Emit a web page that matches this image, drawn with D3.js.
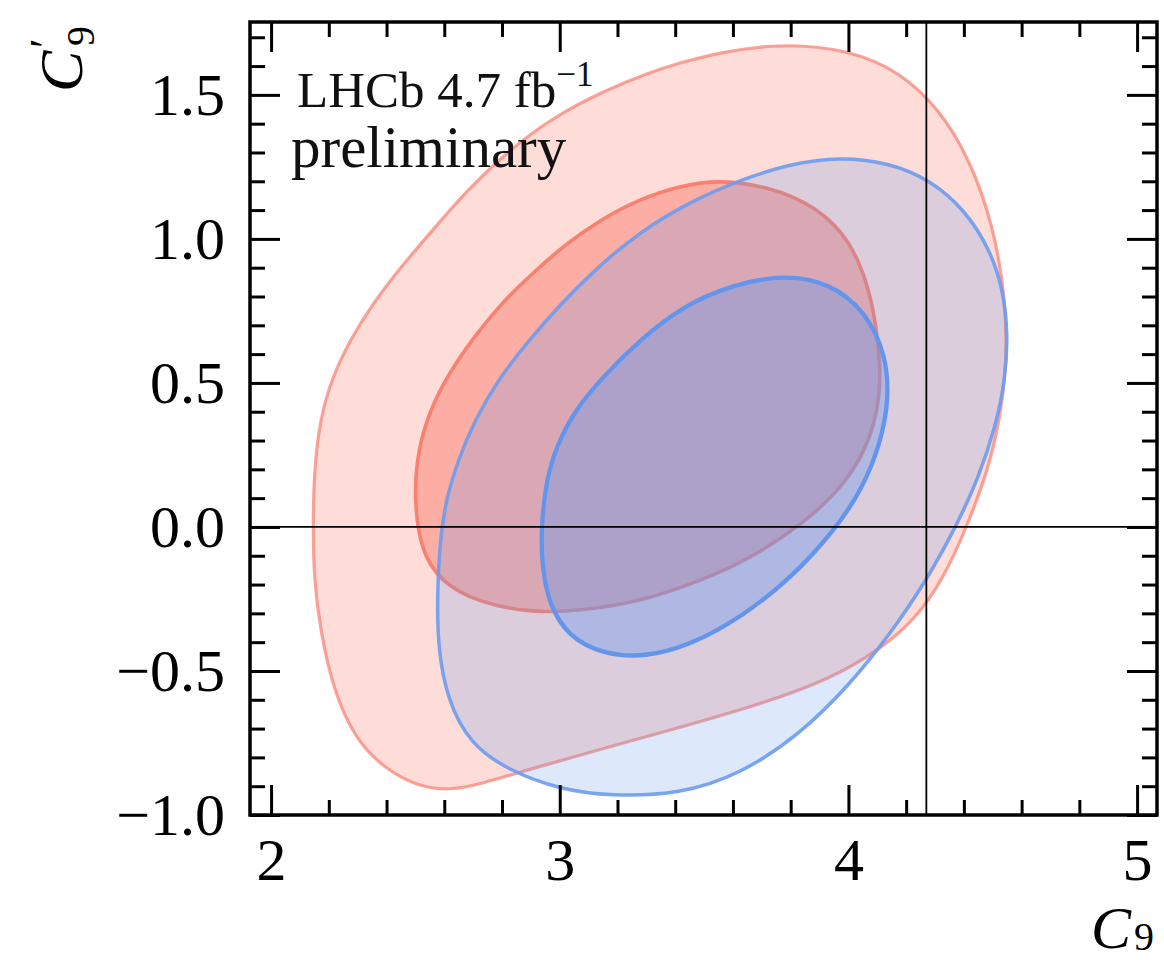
<!DOCTYPE html>
<html>
<head>
<meta charset="utf-8">
<script src="https://cdn.jsdelivr.net/npm/d3@7"></script>
<style>
  body { margin: 0; background: #fff; }
  svg { display: block; }
</style>
</head>
<body>
<svg id="chart" width="1164" height="960"></svg>
<script>
// Confidence regions in the (C9, C9') plane, as [C9, C9'] pairs around each contour.
const red2sigma = [
  [2.145, -0.009], [2.149, 0.199], [2.170, 0.373], [2.208, 0.511], [2.274, 0.650],
  [2.350, 0.772], [2.447, 0.900], [2.558, 1.028], [2.679, 1.170], [2.842, 1.323],
  [2.977, 1.420], [3.140, 1.510], [3.417, 1.621], [3.746, 1.684], [4.006, 1.656],
  [4.179, 1.580], [4.317, 1.448], [4.421, 1.275], [4.501, 1.049], [4.543, 0.806],
  [4.550, 0.581], [4.525, 0.373], [4.484, 0.199], [4.411, 0.002], [4.328, -0.182],
  [4.231, -0.321], [4.110, -0.425], [3.936, -0.529], [3.694, -0.616], [3.417, -0.696],
  [3.140, -0.772], [2.897, -0.841], [2.724, -0.893], [2.620, -0.914], [2.516, -0.904],
  [2.395, -0.841], [2.291, -0.737], [2.215, -0.564], [2.170, -0.356], [2.149, -0.182]
];
const red1sigma = [
  [2.495, 0.113], [2.509, 0.269], [2.551, 0.407], [2.613, 0.529], [2.696, 0.650],
  [2.793, 0.772], [2.908, 0.883], [3.018, 0.980], [3.140, 1.066], [3.278, 1.139],
  [3.417, 1.184], [3.545, 1.205], [3.718, 1.184], [3.891, 1.112], [4.006, 0.997],
  [4.075, 0.824], [4.103, 0.650], [4.113, 0.511], [4.096, 0.373], [4.047, 0.241],
  [3.964, 0.123], [3.850, 0.019], [3.711, -0.078], [3.555, -0.161], [3.313, -0.252],
  [3.070, -0.293], [2.897, -0.297], [2.717, -0.262], [2.585, -0.189], [2.516, -0.078]
];
const blue2sigma = [
  [2.575, -0.252], [2.585, -0.043], [2.606, 0.095], [2.648, 0.234], [2.707, 0.373],
  [2.786, 0.511], [2.887, 0.640], [3.001, 0.772], [3.129, 0.900], [3.278, 1.025],
  [3.451, 1.129], [3.625, 1.205], [3.798, 1.261], [3.971, 1.285], [4.144, 1.264],
  [4.283, 1.205], [4.404, 1.101], [4.491, 0.962], [4.536, 0.824], [4.553, 0.668],
  [4.543, 0.511], [4.512, 0.355], [4.449, 0.165], [4.373, 0.002], [4.273, -0.182],
  [4.144, -0.373], [4.006, -0.546], [3.833, -0.720], [3.625, -0.859], [3.417, -0.928],
  [3.174, -0.935], [3.001, -0.911], [2.828, -0.848], [2.689, -0.755], [2.610, -0.598],
  [2.579, -0.425]
];
const blue1sigma = [
  [2.935, -0.009], [2.953, 0.165], [2.991, 0.286], [3.053, 0.407], [3.157, 0.529],
  [3.278, 0.650], [3.434, 0.772], [3.600, 0.841], [3.774, 0.876], [3.936, 0.848],
  [4.061, 0.747], [4.130, 0.598], [4.141, 0.442], [4.110, 0.286], [4.047, 0.130],
  [3.954, -0.009], [3.805, -0.175], [3.632, -0.311], [3.458, -0.408], [3.296, -0.453],
  [3.150, -0.442], [3.029, -0.380], [2.963, -0.269], [2.939, -0.141]
];

// Standard Model point
const smC9 = 4.27;
const smC9p = 0.0;

// Axis ticks
const xMajorTicks = [2, 3, 4, 5];
const yMajorTicks = [-1.0, -0.5, 0.0, 0.5, 1.0, 1.5];
const xDomain = [1.927, 5.069];
const yDomain = [-1.0, 1.753];

const frame = { left: 250, right: 1157, top: 22, bottom: 815 };
const svg = d3.select("#chart");
const serif = "'Liberation Serif', 'Times New Roman', serif";

const x = d3.scaleLinear().domain(xDomain).range([frame.left, frame.right]);
const y = d3.scaleLinear().domain(yDomain).range([frame.bottom, frame.top]);

svg.append("defs").append("clipPath").attr("id", "plot-clip")
  .append("rect")
  .attr("x", frame.left).attr("y", frame.top)
  .attr("width", frame.right - frame.left).attr("height", frame.bottom - frame.top);

const plot = svg.append("g").attr("clip-path", "url(#plot-clip)");
const contour = d3.line()
  .x(d => x(d[0])).y(d => y(d[1]))
  .curve(d3.curveBasisClosed);

const regions = [
  { pts: red2sigma,  fill: "#fa8072", fillOpacity: 0.27, stroke: "#fa8072", strokeOpacity: 0.72, width: 3.2 },
  { pts: red1sigma,  fill: "#fa8072", fillOpacity: 0.50, stroke: "#f97c6a", strokeOpacity: 0.95, width: 3.6 },
  { pts: blue2sigma, fill: "#6495ed", fillOpacity: 0.22, stroke: "#6d9bee", strokeOpacity: 0.90, width: 3.5 },
  { pts: blue1sigma, fill: "#6495ed", fillOpacity: 0.38, stroke: "#6495ed", strokeOpacity: 1.0, width: 4.3 }
];
regions.forEach(r => {
  plot.append("path").datum(r.pts)
    .attr("d", contour)
    .attr("fill", r.fill).attr("fill-opacity", r.fillOpacity)
    .attr("stroke", "none");
  plot.append("path").datum(r.pts)
    .attr("d", contour)
    .attr("fill", "none")
    .attr("stroke", r.stroke).attr("stroke-opacity", r.strokeOpacity)
    .attr("stroke-width", r.width);
});

// SM reference lines
plot.append("line")
  .attr("x1", x(smC9)).attr("x2", x(smC9))
  .attr("y1", frame.top).attr("y2", frame.bottom)
  .attr("stroke", "#000").attr("stroke-width", 1.8);
plot.append("line")
  .attr("x1", frame.left).attr("x2", frame.right)
  .attr("y1", y(smC9p)).attr("y2", y(smC9p))
  .attr("stroke", "#000").attr("stroke-width", 1.8);

// Ticks (inward, mirrored on all sides)
const xMinor = d3.range(-30, 60).map(i => i / 5).filter(v => v > xDomain[0] && v < xDomain[1] && Math.abs(v - Math.round(v)) > 1e-6);
const yMinor = d3.range(-20, 40).map(i => i / 10).filter(v => v > yDomain[0] + 1e-6 && v < yDomain[1] && Math.abs(v * 2 - Math.round(v * 2)) > 1e-6);

function styleAxis(g) {
  g.select(".domain").remove();
  g.selectAll(".tick line").attr("stroke", "#000").attr("stroke-width", 3);
  g.selectAll("text")
    .attr("fill", "#000")
    .style("font-family", serif)
    .style("font-size", "60px");
}

svg.append("g").attr("transform", `translate(0,${frame.bottom})`)
  .call(d3.axisBottom(x).tickValues(xMajorTicks).tickSize(-30).tickPadding(22).tickFormat(d3.format("d")))
  .call(styleAxis);
svg.append("g").attr("transform", `translate(0,${frame.bottom})`)
  .call(d3.axisBottom(x).tickValues(xMinor).tickSize(-15).tickFormat(""))
  .call(styleAxis);
svg.append("g").attr("transform", `translate(0,${frame.top})`)
  .call(d3.axisTop(x).tickValues(xMajorTicks).tickSize(-30).tickFormat(""))
  .call(styleAxis);
svg.append("g").attr("transform", `translate(0,${frame.top})`)
  .call(d3.axisTop(x).tickValues(xMinor).tickSize(-15).tickFormat(""))
  .call(styleAxis);

svg.append("g").attr("transform", `translate(${frame.left},0)`)
  .call(d3.axisLeft(y).tickValues(yMajorTicks).tickSize(-30).tickPadding(25).tickFormat(d3.format(".1f")))
  .call(styleAxis);
svg.append("g").attr("transform", `translate(${frame.left},0)`)
  .call(d3.axisLeft(y).tickValues(yMinor).tickSize(-15).tickFormat(""))
  .call(styleAxis);
svg.append("g").attr("transform", `translate(${frame.right},0)`)
  .call(d3.axisRight(y).tickValues(yMajorTicks).tickSize(-30).tickFormat(""))
  .call(styleAxis);
svg.append("g").attr("transform", `translate(${frame.right},0)`)
  .call(d3.axisRight(y).tickValues(yMinor).tickSize(-15).tickFormat(""))
  .call(styleAxis);

// Frame
svg.append("rect")
  .attr("x", frame.left).attr("y", frame.top)
  .attr("width", frame.right - frame.left).attr("height", frame.bottom - frame.top)
  .attr("fill", "none").attr("stroke", "#000").attr("stroke-width", 3.5);

// Experiment label
const lhcb = svg.append("text")
  .attr("x", 297).attr("y", 107)
  .attr("fill", "#111")
  .style("font-family", serif).style("font-size", "51px");
lhcb.append("tspan").text("LHCb 4.7 fb");
lhcb.append("tspan").attr("dy", -21).style("font-size", "35px").text("\u22121");
svg.append("text")
  .attr("x", 291).attr("y", 167)
  .attr("fill", "#111")
  .style("font-family", serif).style("font-size", "59px")
  .text("preliminary");

// Axis titles
const xTitle = svg.append("text")
  .attr("x", 1154).attr("y", 948)
  .attr("text-anchor", "end")
  .attr("fill", "#000")
  .style("font-family", serif);
xTitle.append("tspan").style("font-style", "italic").style("font-size", "60px").text("C");
xTitle.append("tspan").attr("dx", 3).attr("dy", 2).style("font-size", "40px").text("9");

const yTitle = svg.append("g").attr("transform", "translate(82,92) rotate(-90)");
yTitle.append("text")
  .attr("x", 0).attr("y", 0)
  .attr("fill", "#000")
  .style("font-family", serif).style("font-style", "italic").style("font-size", "62px")
  .text("C");
yTitle.append("text")
  .attr("x", 44).attr("y", -22)
  .attr("fill", "#000")
  .style("font-family", serif).style("font-size", "44px")
  .text("\u2032");
yTitle.append("text")
  .attr("x", 46).attr("y", 12)
  .attr("fill", "#000")
  .style("font-family", serif).style("font-size", "40px")
  .text("9");
</script>
</body>
</html>
